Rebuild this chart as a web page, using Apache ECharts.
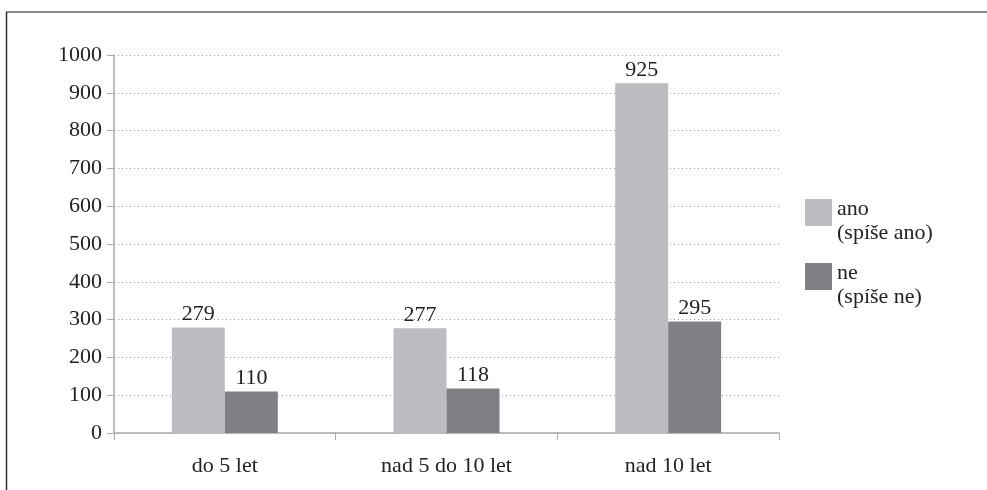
<!DOCTYPE html>
<html>
<head>
<meta charset="utf-8">
<script src="https://cdn.jsdelivr.net/npm/echarts@6/dist/echarts.min.js"></script>
<style>
	html, body { margin: 0; padding: 0; background: #fff; }
	#chart { width: 987px; height: 490px; }
</style>
</head>
<body>
<div id="chart"></div>
<script>
	const categories = ['do 5 let', 'nad 5 do 10 let', 'nad 10 let']
	const anoValues = [279, 277, 925]
	const neValues = [110, 118, 295]
	const seriesNames = ['ano\n(spíše ano)', 'ne\n(spíše ne)']

	const font = '"Liberation Serif", "DejaVu Serif", serif'

	const chart = echarts.init(document.getElementById('chart'), null, { renderer: 'canvas' })

	const labelStyle = {
		show: true,
		position: 'top',
		distance: 2,
		color: '#222',
		fontFamily: font,
		fontSize: 22
	}

	chart.setOption({
		animation: false,
		textStyle: { fontFamily: font },
		grid: { left: 114, right: 208, top: 55, bottom: 57 },
		graphic: [
			{ type: 'line', shape: { x1: 6, y1: 12, x2: 987, y2: 12 }, style: { stroke: '#8a8a8a', lineWidth: 2 } },
			{ type: 'line', shape: { x1: 6.5, y1: 12, x2: 6.5, y2: 490 }, style: { stroke: '#333', lineWidth: 1.5 } }
		],
		legend: {
			orient: 'vertical',
			left: 805,
			top: 180,
			padding: 0,
			itemWidth: 27,
			itemHeight: 27,
			itemGap: 0,
			icon: 'rect',
			// prázdný řádek nahoře posune ikonu k prvnímu řádku textu
			formatter: (name) => '{s| }\n' + name.split('\n').map((t) => '{a|' + t + '}').join('\n'),
			textStyle: {
				fontFamily: font,
				fontSize: 22,
				color: '#222',
				rich: {
					s: { height: 17, fontSize: 1, lineHeight: 17 },
					a: { fontFamily: font, fontSize: 22, color: '#222', lineHeight: 24 }
				}
			},
			data: seriesNames
		},
		xAxis: {
			type: 'category',
			data: categories,
			axisLine: { lineStyle: { color: '#aaa', width: 1.5 } },
			axisTick: { show: true, length: 7, lineStyle: { color: '#aaa' } },
			axisLabel: { color: '#222', fontFamily: font, fontSize: 22, margin: 22 }
		},
		yAxis: {
			type: 'value',
			min: 0,
			max: 1000,
			interval: 100,
			axisLine: { show: true, lineStyle: { color: '#aaa', width: 1.5 } },
			axisTick: { show: true, length: 7, lineStyle: { color: '#aaa' } },
			axisLabel: { color: '#222', fontFamily: font, fontSize: 22, margin: 12, formatter: (v) => String(v) },
			splitLine: { lineStyle: { type: [1, 3], color: '#999' } }
		},
		series: [
			{
				name: seriesNames[0],
				type: 'bar',
				data: anoValues,
				barWidth: 53,
				barGap: '0%',
				itemStyle: { color: '#bcbdc1' },
				label: labelStyle
			},
			{
				name: seriesNames[1],
				type: 'bar',
				data: neValues,
				barWidth: 53,
				itemStyle: { color: '#7f8084' },
				label: labelStyle
			}
		]
	})

	window.addEventListener('resize', () => {
		chart.resize()
	})
</script>
</body>
</html>
